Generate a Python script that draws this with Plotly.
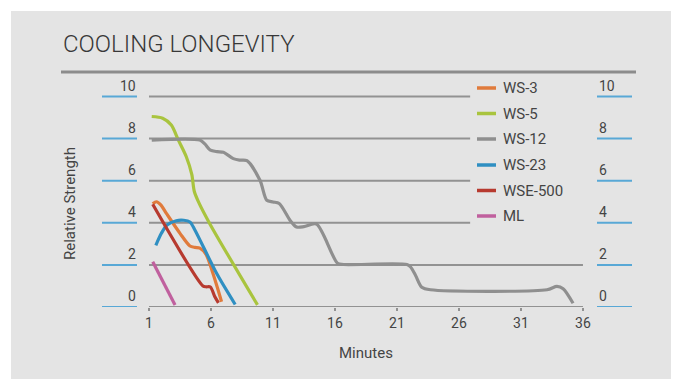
import plotly.graph_objects as go

# ---------------- data ----------------
series_names = ["WS-3", "WS-5", "WS-12", "WS-23", "WSE-500", "ML"]
series_colors = ["#e07b3c", "#a9c43e", "#8f8f8f", "#2f8fc2", "#b73a2f", "#c0609e"]

ws3_x = [1.3, 1.6, 1.95, 2.4, 3.5, 4.3, 4.7, 5.1, 5.6, 6.1, 6.5, 6.85]
ws3_y = [4.9, 5.0, 4.85, 4.45, 3.5, 2.9, 2.83, 2.8, 2.5, 1.7, 0.95, 0.25]

ws5_x = [1.22, 2.1, 2.8, 3.35, 4.0, 4.45, 4.65, 5.0, 5.9, 9.75]
ws5_y = [9.05, 8.97, 8.65, 7.95, 7.15, 6.3, 5.5, 4.98, 3.96, 0.1]

ws12_x = [1.22, 5.1, 5.5, 5.95, 6.5, 7.0, 7.8, 8.3, 8.9, 9.95, 10.5, 11.0, 11.5,
          12.4, 12.9, 13.5, 14.5, 16.2, 16.7, 21.8, 22.1, 22.5, 23.0, 23.7,
          33.1, 33.9, 34.4, 35.2]
ws12_y = [7.93, 7.93, 7.75, 7.45, 7.38, 7.35, 7.05, 6.98, 6.95, 6.02, 5.07, 4.99, 4.92,
          4.1, 3.8, 3.82, 3.94, 2.08, 2.02, 2.02, 1.9, 1.5, 0.94, 0.82,
          0.82, 0.98, 0.87, 0.18]

ws23_x = [1.55, 2.0, 2.45, 3.2, 3.8, 4.3, 4.7, 6.45, 7.95]
ws23_y = [2.93, 3.5, 3.9, 4.1, 4.12, 4.04, 3.66, 1.6, 0.12]

wse500_x = [1.3, 5.35, 5.6, 5.95, 6.3, 6.6]
wse500_y = [4.88, 1.0, 0.96, 0.95, 0.5, 0.2]

ml_x = [1.3, 3.1]
ml_y = [2.15, 0.1]

x_ticks = [1, 6, 11, 16, 21, 26, 31, 36]
y_ticks = [0, 2, 4, 6, 8, 10]

title_text = "COOLING LONGEVITY"
x_title = "Minutes"
y_title = "Relative Strength"

# ---------------- layout helpers ----------------
OFF = 8  # page body margin
W, H = 672, 371
ML_, MR_, MT_, MB_ = 135, 85, 78, 72
PW = W - ML_ - MR_
PH = H - MT_ - MB_


def px(x):
    return (x - OFF - ML_) / PW


def py(y):
    return (H - MB_ - (y - OFF)) / PH


FONT = "Roboto, 'Open Sans', sans-serif"
TXT = "#444444"
GRID = "#929292"
BLUE = "#58a8d6"

xs = [ws3_x, ws5_x, ws12_x, ws23_x, wse500_x, ml_x]
ys = [ws3_y, ws5_y, ws12_y, ws23_y, wse500_y, ml_y]

fig = go.Figure()
for name, color, x, y in zip(series_names, series_colors, xs, ys):
    fig.add_trace(go.Scatter(x=x, y=y, mode="lines", name=name,
                             line=dict(color=color, width=3.2, shape="spline", smoothing=0.8),
                             showlegend=False, hoverinfo="skip"))

shapes = []
annotations = []

# panel background
shapes.append(dict(type="rect", xref="paper", yref="paper", x0=px(11), x1=px(671), y0=py(11), y1=py(380),
                   fillcolor="#e4e4e4", line=dict(width=0), layer="below"))
# title rule
shapes.append(dict(type="line", xref="paper", yref="paper", x0=px(61), x1=px(636), y0=py(72), y1=py(72),
                   line=dict(color="#8c8c8c", width=3), layer="below"))

# gridlines
for v in y_ticks:
    if v == 0:
        shapes.append(dict(type="line", xref="x", yref="y", x0=1, x1=36, y0=0, y1=0,
                           line=dict(color=GRID, width=2), layer="below"))
    else:
        x_end = 36.0 if v == 2 else 26.9
        shapes.append(dict(type="line", xref="x", yref="y", x0=1, x1=x_end, y0=v, y1=v,
                           line=dict(color=GRID, width=2), layer="below"))
    # blue ticks left/right
    shapes.append(dict(type="line", xref="paper", yref="y", x0=px(102), x1=px(137), y0=v, y1=v,
                       line=dict(color=BLUE, width=2)))
    shapes.append(dict(type="line", xref="paper", yref="y", x0=px(597), x1=px(632), y0=v, y1=v,
                       line=dict(color=BLUE, width=2)))
    annotations.append(dict(xref="paper", yref="y", x=px(137.5), y=v, yshift=11, text=str(v),
                            showarrow=False, xanchor="right", yanchor="middle",
                            font=dict(family=FONT, size=14, color=TXT)))
    annotations.append(dict(xref="paper", yref="y", x=px(596.5), y=v, yshift=11, text=str(v),
                            showarrow=False, xanchor="left", yanchor="middle",
                            font=dict(family=FONT, size=14, color=TXT)))

# custom legend
leg_y = [88, 113.5, 139, 165, 190.5, 216]
for name, color, ly in zip(series_names, series_colors, leg_y):
    shapes.append(dict(type="line", xref="paper", yref="paper", x0=px(477), x1=px(496), y0=py(ly), y1=py(ly),
                       line=dict(color=color, width=3.5)))
    annotations.append(dict(xref="paper", yref="paper", x=px(501), y=py(ly), text=name,
                            showarrow=False, xanchor="left", yanchor="middle",
                            font=dict(family=FONT, size=15, color=TXT)))

# title and axis titles
annotations.append(dict(xref="paper", yref="paper", x=px(61), y=py(44), text=title_text,
                        showarrow=False, xanchor="left", yanchor="middle",
                        font=dict(family=FONT, size=24, color="#383838", weight=300)))
annotations.append(dict(xref="paper", yref="paper", x=px(366), y=py(353), text=x_title,
                        showarrow=False, xanchor="center", yanchor="middle",
                        font=dict(family=FONT, size=15, color=TXT)))
annotations.append(dict(xref="paper", yref="paper", x=px(70), y=py(204), text=y_title,
                        showarrow=False, xanchor="center", yanchor="middle", textangle=-90,
                        font=dict(family=FONT, size=15, color=TXT)))

fig.update_layout(
    width=W, height=H,
    margin=dict(l=ML_, r=MR_, t=MT_, b=MB_, pad=0),
    paper_bgcolor="white", plot_bgcolor="rgba(0,0,0,0)",
    showlegend=False,
    shapes=shapes, annotations=annotations,
    xaxis=dict(range=[0.516, 36.97], tickvals=x_ticks, ticktext=[str(t) for t in x_ticks],
               showgrid=False, zeroline=False, showline=False,
               ticks="outside", ticklen=3, tickwidth=1.5, tickcolor=GRID,
               ticklabelstandoff=0,
               tickfont=dict(family=FONT, size=14, color=TXT)),
    yaxis=dict(range=[0, 10.5], showgrid=False, zeroline=False, showline=False,
               showticklabels=False, ticks=""),
)

fig.write_html("out.html")
